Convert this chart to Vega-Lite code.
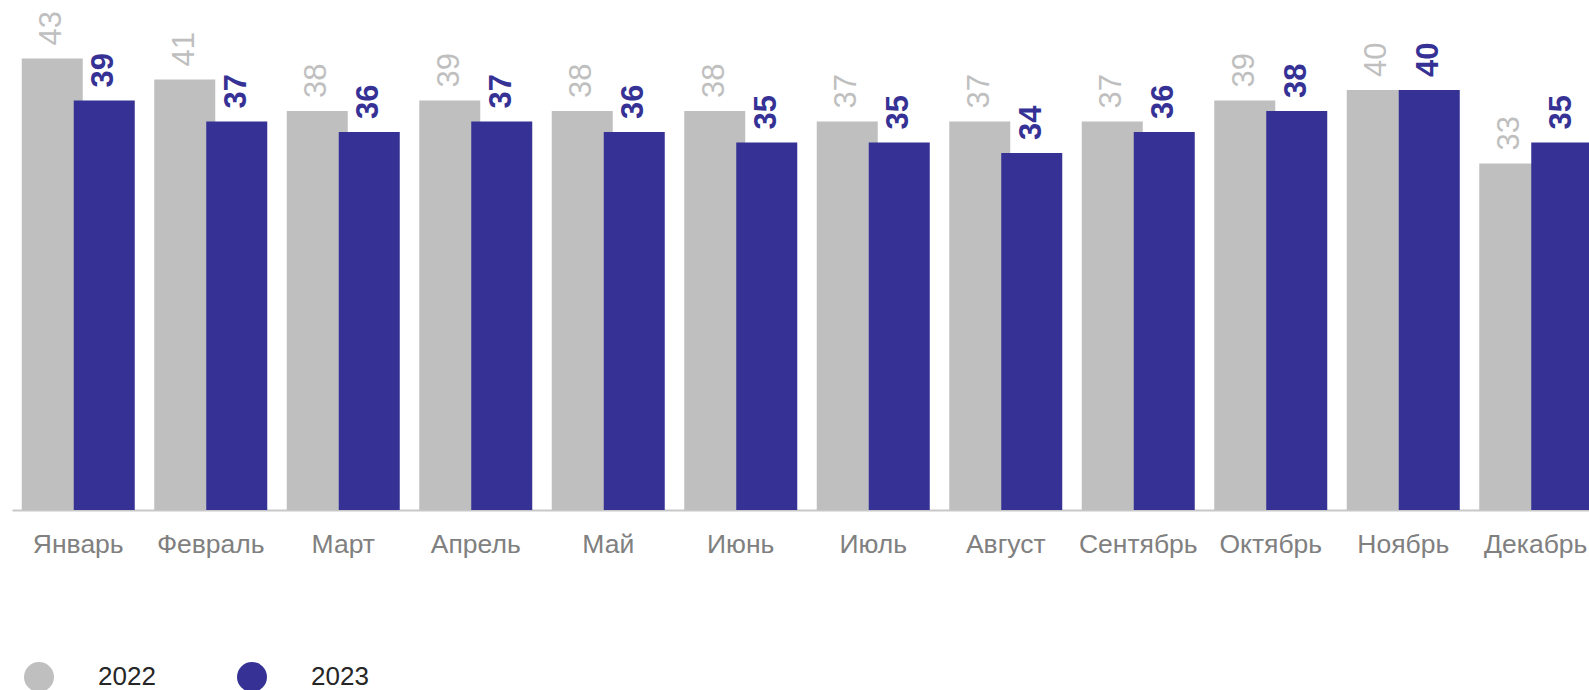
{
  "$schema": "https://vega.github.io/schema/vega-lite/v6.json",
  "width": 1590,
  "height": 504,
  "autosize": {"type": "none"},
  "padding": {"left": 12, "top": 6, "right": 0, "bottom": 180},
  "background": "white",
  "config": {
    "view": {"stroke": null},
    "font": "Liberation Sans"
  },
  "data": {
    "values": [
      {"month": "Январь", "year": "2022", "value": 43},
      {"month": "Февраль", "year": "2022", "value": 41},
      {"month": "Март", "year": "2022", "value": 38},
      {"month": "Апрель", "year": "2022", "value": 39},
      {"month": "Май", "year": "2022", "value": 38},
      {"month": "Июнь", "year": "2022", "value": 38},
      {"month": "Июль", "year": "2022", "value": 37},
      {"month": "Август", "year": "2022", "value": 37},
      {"month": "Сентябрь", "year": "2022", "value": 37},
      {"month": "Октябрь", "year": "2022", "value": 39},
      {"month": "Ноябрь", "year": "2022", "value": 40},
      {"month": "Декабрь", "year": "2022", "value": 33},
      {"month": "Январь", "year": "2023", "value": 39},
      {"month": "Февраль", "year": "2023", "value": 37},
      {"month": "Март", "year": "2023", "value": 36},
      {"month": "Апрель", "year": "2023", "value": 37},
      {"month": "Май", "year": "2023", "value": 36},
      {"month": "Июнь", "year": "2023", "value": 35},
      {"month": "Июль", "year": "2023", "value": 35},
      {"month": "Август", "year": "2023", "value": 34},
      {"month": "Сентябрь", "year": "2023", "value": 36},
      {"month": "Октябрь", "year": "2023", "value": 38},
      {"month": "Ноябрь", "year": "2023", "value": 40},
      {"month": "Декабрь", "year": "2023", "value": 35}
    ]
  },
  "encoding": {
    "x": {
      "field": "month", "type": "nominal", "sort": null, "title": null,
      "scale": {"paddingInner": 0, "paddingOuter": 0},
      "axis": {
        "labelAngle": 0, "labelFontSize": 26.5, "labelColor": "#808080",
        "labelPadding": 21, "ticks": false, "tickSize": 0,
        "domainColor": "#c8c8c8", "domainWidth": 2, "grid": false
      }
    },
    "y": {
      "field": "value", "type": "quantitative",
      "scale": {"domain": [0, 48], "nice": false},
      "axis": null
    }
  },
  "layer": [
    {
      "transform": [{"filter": "datum.year == '2022'"}],
      "mark": {"type": "bar", "width": 61, "xOffset": -26},
      "encoding": {
        "color": {
          "field": "year", "type": "nominal",
          "scale": {"domain": ["2022", "2023"], "range": ["#bfbfbf", "#353195"]},
          "legend": {
            "orient": "none", "legendX": 12, "legendY": 656,
            "direction": "horizontal", "title": null,
            "symbolType": "circle", "symbolSize": 900, "symbolStrokeWidth": 0,
            "labelFontSize": 26, "labelColor": "#262626", "labelOffset": 44,
            "columnPadding": 81
          }
        }
      }
    },
    {
      "transform": [{"filter": "datum.year == '2023'"}],
      "mark": {"type": "bar", "width": 61, "xOffset": 26},
      "encoding": {
        "color": {"field": "year", "type": "nominal"}
      }
    },
    {
      "transform": [{"filter": "datum.year == '2022'"}],
      "mark": {
        "type": "text", "angle": 270, "align": "left", "baseline": "middle",
        "dx": 13, "fontSize": 31, "color": "#bfbfbf", "xOffset": -26
      },
      "encoding": {"text": {"field": "value", "type": "quantitative"}}
    },
    {
      "transform": [{"filter": "datum.year == '2023'"}],
      "mark": {
        "type": "text", "angle": 270, "align": "left", "baseline": "middle",
        "dx": 13, "fontSize": 31, "fontWeight": "bold", "color": "#353195", "xOffset": 26
      },
      "encoding": {"text": {"field": "value", "type": "quantitative"}}
    }
  ]
}
